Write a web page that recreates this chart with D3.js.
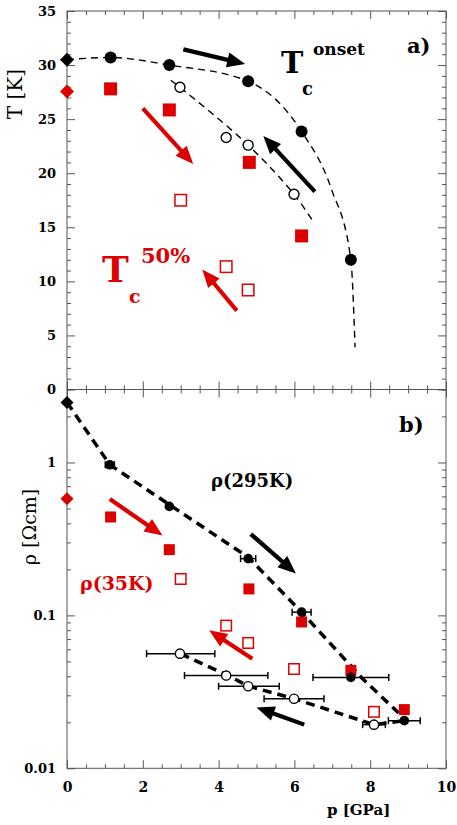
<!DOCTYPE html>
<html><head><meta charset="utf-8">
<script src="https://cdn.jsdelivr.net/npm/d3@7"></script>
<style>body{margin:0;background:#fff} svg{display:block}</style>
</head><body>
<svg id="c" width="457" height="825"></svg>
<script>
// ---------- data ----------
const pressureTicks = [0, 2, 4, 6, 8, 10];
const tTicks = [0, 5, 10, 15, 20, 25, 30, 35];
const rhoTicks = [0.01, 0.1, 1];
const rhoTickLabels = ["0.01", "0.1", "1"];

// panel a : T [K] vs p [GPa]
const onsetAmbientP = [0], onsetAmbientT = [30.5];
const onsetP = [1.15, 2.7, 4.78, 6.19, 7.49];
const onsetT = [30.7, 30.0, 28.5, 23.85, 12.0];
const onsetReleaseP = [2.98, 4.2, 4.78, 5.99];
const onsetReleaseT = [27.95, 23.3, 22.6, 18.05];
const halfAmbientP = [0], halfAmbientT = [27.55];
const halfP = [1.15, 2.7, 4.81, 6.19];
const halfT = [27.8, 25.85, 21.0, 14.2];
const halfReleaseP = [3.0, 4.2, 4.78];
const halfReleaseT = [17.5, 11.36, 9.2];
const onsetFitP = [0, 1.15, 2.7, 4.78, 6.19, 6.98, 7.49, 7.6];
const onsetFitT = [30.5, 30.7, 30.0, 28.5, 23.85, 18.5, 12.0, 3.9];
const releaseFitP = [2.74, 2.98, 4.78, 5.99, 6.5];
const releaseFitT = [28.6, 27.95, 22.6, 18.05, 15.5];
const arrowsA = [
  {c: "k", p1: 3.07, v1: 31.45, p2: 4.70, v2: 30.1},
  {c: "k", p1: 6.54, v1: 18.3, p2: 5.18, v2: 23.45},
  {c: "r", p1: 2.0, v1: 26.0, p2: 3.33, v2: 20.85},
  {c: "r", p1: 4.48, v1: 7.3, p2: 3.57, v2: 11.1}
];

// panel b : rho [Ohm cm] vs p [GPa]
const rtAmbientP = [0], rtAmbientRho = [2.47];
const rtP = [1.13, 2.7, 4.78, 6.19, 7.49, 8.9];
const rtRho = [0.966, 0.516, 0.235, 0.105, 0.0393, 0.0205];
const rtPErr = [0.12, 0, 0.2, 0.25, 1.0, 0.42];
const rtReleaseP = [2.98, 4.2, 4.78, 5.99, 8.1];
const rtReleaseRho = [0.0562, 0.0404, 0.0344, 0.0285, 0.0193];
const rtReleaseLo = [2.1, 3.1, 4.0, 5.2, 7.8];
const rtReleaseHi = [3.9, 5.3, 5.6, 6.78, 8.4];
const r35AmbientP = [0], r35AmbientRho = [0.579];
const r35P = [1.15, 2.7, 4.8, 6.19, 7.49, 8.9];
const r35Rho = [0.44, 0.269, 0.149, 0.0906, 0.0437, 0.0242];
const r35ReleaseP = [3.0, 4.2, 4.78, 5.99, 8.1];
const r35ReleaseRho = [0.173, 0.0857, 0.066, 0.0446, 0.0234];
const rtFitP = [0, 1.13, 2.7, 4.78, 6.19, 7.78, 8.75];
const rtFitRho = [2.47, 0.966, 0.53, 0.24, 0.105, 0.039, 0.023];
const releaseLineP = [3.0, 4.2, 4.78, 6.0, 8.1, 8.9];
const releaseLineRho = [0.056, 0.041, 0.0345, 0.0285, 0.0193, 0.0205];
const arrowsB = [
  {c: "k", p1: 4.85, v1: 0.34, p2: 6.04, v2: 0.188},
  {c: "k", p1: 6.26, v1: 0.0193, p2: 5.0, v2: 0.025},
  {c: "r", p1: 1.13, v1: 0.576, p2: 2.52, v2: 0.333},
  {c: "r", p1: 4.89, v1: 0.0521, p2: 3.75, v2: 0.0798}
];

// ---------- drawing ----------
const RED = "#dd0000", BLK = "#000";
const FONT = "DejaVu Serif, Liberation Serif, serif";
const svg = d3.select("#c");
const L = 67, R = 446, aTop = 11, mid = 389.5, bBot = 768.3;

const x = d3.scaleLinear().domain([0, 10]).range([L, R]);
const yA = d3.scaleLinear().domain([0, 35]).range([mid, aTop]);
const yB = d3.scaleLog().domain([0.01, 3]).range([bBot, mid]);

const xMinor = d3.range(0, 10.01, 0.5).filter(v => v % 2 !== 0);
const tMinor = d3.range(0, 35.01, 1).filter(v => v % 5 !== 0);
const rhoMinor = [];
[0.01, 0.1, 1].forEach(d => { for (let k = 2; k <= 9; k++) { const v = d * k; if (v <= 3.0001) rhoMinor.push(v); } });

function styleAxis(g) {
  g.select(".domain").remove();
  g.selectAll(".tick line").attr("stroke", "#555").attr("stroke-width", 1);
  g.selectAll(".tick text").attr("font-family", FONT).attr("font-weight", "bold")
    .attr("font-size", 13).attr("fill", "#000");
}
function panelAxes(y, top, bottom, majY, minY, fmtY, showX) {
  svg.append("g").attr("transform", `translate(${L},0)`)
    .call(d3.axisLeft(y).tickValues(majY).tickSize(-8).tickPadding(11).tickFormat(fmtY)).call(styleAxis);
  svg.append("g").attr("transform", `translate(${L},0)`)
    .call(d3.axisLeft(y).tickValues(minY).tickSize(-4).tickFormat("")).call(styleAxis);
  svg.append("g").attr("transform", `translate(${R},0)`)
    .call(d3.axisRight(y).tickValues(majY).tickSize(-8).tickFormat("")).call(styleAxis);
  svg.append("g").attr("transform", `translate(${R},0)`)
    .call(d3.axisRight(y).tickValues(minY).tickSize(-4).tickFormat("")).call(styleAxis);
  svg.append("g").attr("transform", `translate(0,${top})`)
    .call(d3.axisTop(x).tickValues(pressureTicks).tickSize(-8).tickFormat("")).call(styleAxis);
  svg.append("g").attr("transform", `translate(0,${top})`)
    .call(d3.axisTop(x).tickValues(xMinor).tickSize(-4).tickFormat("")).call(styleAxis);
  const gb = svg.append("g").attr("transform", `translate(0,${bottom})`)
    .call(d3.axisBottom(x).tickValues(pressureTicks).tickSize(-8).tickPadding(14)
      .tickFormat(showX ? d3.format("d") : "")).call(styleAxis);
  gb.selectAll(".tick text").attr("font-size", 14);
  svg.append("g").attr("transform", `translate(0,${bottom})`)
    .call(d3.axisBottom(x).tickValues(xMinor).tickSize(-4).tickFormat("")).call(styleAxis);
  svg.append("rect").attr("x", L).attr("y", top).attr("width", R - L).attr("height", bottom - top)
    .attr("fill", "none").attr("stroke", "#555").attr("stroke-width", 1);
}

panelAxes(yA, aTop, mid, tTicks, tMinor, d3.format("d"), false);
panelAxes(yB, mid, bBot, rhoTicks, rhoMinor, (d, i) => rhoTickLabels[i], true);

const layer = svg.append("g");
const zip = (a, b) => a.map((v, i) => [v, b[i]]);

// ---- panel a lines ----
layer.append("path").datum(zip(onsetFitP, onsetFitT))
  .attr("d", d3.line().x(d => x(d[0])).y(d => yA(d[1])).curve(d3.curveMonotoneX))
  .attr("fill", "none").attr("stroke", BLK).attr("stroke-width", 1.4).attr("stroke-dasharray", "7,5");
layer.append("path").datum(zip(releaseFitP, releaseFitT))
  .attr("d", d3.line().x(d => x(d[0])).y(d => yA(d[1])).curve(d3.curveCatmullRom.alpha(0.5)))
  .attr("fill", "none").attr("stroke", BLK).attr("stroke-width", 1.4).attr("stroke-dasharray", "7,5");

// ---- panel b lines ----
layer.append("path").datum(zip(rtFitP, rtFitRho))
  .attr("d", d3.line().x(d => x(d[0])).y(d => yB(d[1])))
  .attr("fill", "none").attr("stroke", BLK).attr("stroke-width", 3.5).attr("stroke-dasharray", "9,6");
layer.append("path").datum(zip(releaseLineP, releaseLineRho))
  .attr("d", d3.line().x(d => x(d[0])).y(d => yB(d[1])))
  .attr("fill", "none").attr("stroke", BLK).attr("stroke-width", 3.5).attr("stroke-dasharray", "9,6");

// ---- error bars ----
function hbar(p1, p2, yy) {
  const g = layer.append("g").attr("stroke", BLK).attr("stroke-width", 1.5);
  g.append("line").attr("x1", x(p1)).attr("x2", x(p2)).attr("y1", yy).attr("y2", yy);
  [p1, p2].forEach(p => g.append("line").attr("x1", x(p)).attr("x2", x(p)).attr("y1", yy - 3.5).attr("y2", yy + 3.5));
}
rtP.forEach((p, i) => { if (rtPErr[i] > 0) hbar(p - rtPErr[i], p + rtPErr[i], yB(rtRho[i])); });
rtReleaseP.forEach((p, i) => hbar(rtReleaseLo[i], rtReleaseHi[i], yB(rtReleaseRho[i])));

// ---- markers ----
function circles(P, V, y, r, filled) {
  layer.append("g").selectAll("circle").data(zip(P, V)).join("circle")
    .attr("cx", d => x(d[0])).attr("cy", d => y(d[1])).attr("r", r)
    .attr("fill", filled ? BLK : "#fff").attr("stroke", BLK).attr("stroke-width", filled ? 0 : 1.4);
}
function squares(P, V, y, s, filled) {
  layer.append("g").selectAll("rect").data(zip(P, V)).join("rect")
    .attr("x", d => x(d[0]) - s / 2).attr("y", d => y(d[1]) - s / 2).attr("width", s).attr("height", s)
    .attr("fill", filled ? RED : "#fff").attr("stroke", RED).attr("stroke-width", filled ? 0 : 1.5);
}
function diamonds(P, V, y, s, col) {
  layer.append("g").selectAll("path").data(zip(P, V)).join("path")
    .attr("d", d => { const cx = x(d[0]), cy = y(d[1]); return `M${cx},${cy - s}L${cx + s},${cy}L${cx},${cy + s}L${cx - s},${cy}Z`; })
    .attr("fill", col);
}
circles(onsetReleaseP, onsetReleaseT, yA, 5, false);
squares(halfReleaseP, halfReleaseT, yA, 11.5, false);
squares(halfP, halfT, yA, 13, true);
circles(onsetP, onsetT, yA, 6, true);
diamonds(onsetAmbientP, onsetAmbientT, yA, 7, BLK);
diamonds(halfAmbientP, halfAmbientT, yA, 7, RED);
squares(r35ReleaseP, r35ReleaseRho, yB, 10.5, false);
circles(rtReleaseP, rtReleaseRho, yB, 4.6, false);
squares(r35P, r35Rho, yB, 11, true);
circles(rtP, rtRho, yB, 4.8, true);
diamonds(rtAmbientP, rtAmbientRho, yB, 6.5, BLK);
diamonds(r35AmbientP, r35AmbientRho, yB, 6.5, RED);

// ---- arrows ----
function arrow(a, y) {
  const x1 = x(a.p1), y1 = y(a.v1), x2 = x(a.p2), y2 = y(a.v2);
  const dx = x2 - x1, dy = y2 - y1, len = Math.hypot(dx, dy), ux = dx / len, uy = dy / len;
  const nx = -uy, ny = ux, hl = 18, hw = 7.5, sw = 2.1;
  const bx = x2 - ux * hl, by = y2 - uy * hl;
  const pts = [
    [x1 + nx * sw, y1 + ny * sw], [bx + nx * sw, by + ny * sw], [bx + nx * hw, by + ny * hw], [x2, y2],
    [bx - nx * hw, by - ny * hw], [bx - nx * sw, by - ny * sw], [x1 - nx * sw, y1 - ny * sw]
  ];
  layer.append("path").attr("d", "M" + pts.map(p => p.join(",")).join("L") + "Z")
    .attr("fill", a.c === "r" ? RED : BLK);
}
arrowsA.forEach(a => arrow(a, yA));
arrowsB.forEach(a => arrow(a, yB));

// ---- texts ----
function txt(s, px, py, size, col, weight, anchor) {
  return svg.append("text").attr("x", px).attr("y", py).text(s)
    .attr("font-family", FONT).attr("font-size", size).attr("fill", col || BLK)
    .attr("font-weight", weight || "bold").attr("text-anchor", anchor || "start");
}
txt("a)", 407, 53, 21);
txt("b)", 399, 432, 21);
txt("T", 281, 73, 30);
txt("c", 302, 95, 18);
txt("onset", 313, 55, 17);
txt("T", 102, 282, 36, RED);
txt("c", 129, 303, 19, RED);
txt("50%", 141, 263, 21, RED);
txt("ρ(295K)", 211, 487, 18);
txt("ρ(35K)", 80, 590, 19, RED);
txt("p [GPa]", 327, 815, 15);
svg.append("text").attr("transform", "translate(22,94) rotate(-90)").attr("text-anchor", "middle")
  .attr("font-family", FONT).attr("font-size", 20).text("T [K]");
svg.append("text").attr("transform", "translate(36,527) rotate(-90)").attr("text-anchor", "middle")
  .attr("font-family", FONT).attr("font-size", 19).text("ρ [Ωcm]");
</script>
</body></html>
